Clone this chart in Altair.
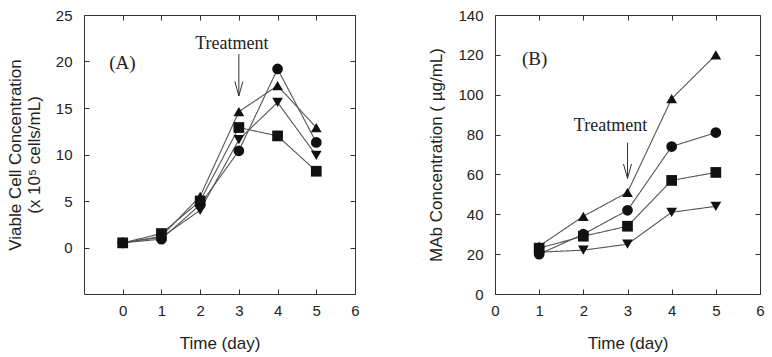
import altair as alt
import pandas as pd

# ---- Panel A: viable cell concentration (x 10^5 cells/mL) ----
days_a = [0, 1, 2, 3, 4, 5]
a_circle = [0.5, 0.9, 4.6, 10.4, 19.2, 11.3]
a_square = [0.5, 1.5, 5.0, 12.9, 12.0, 8.2]
a_up = [0.5, 1.2, 5.5, 14.6, 17.4, 12.9]
a_down = [0.5, 1.1, 4.0, 11.6, 15.6, 9.9]

# ---- Panel B: MAb concentration (ug/mL) ----
days_b = [1, 2, 3, 4, 5]
b_circle = [20, 30, 42, 74, 81]
b_square = [23, 29, 34, 57, 61]
b_up = [24, 39, 51, 98, 120]
b_down = [21, 22, 25, 41, 44]

series_names = ["circle", "square", "up", "down"]
shape_range = ["circle", "square", "triangle-up", "triangle-down"]
treatment_day = 3

INK = "#222222"
SANS = "Liberation Sans"
SERIF = "Liberation Serif"


def long_table(days, cols):
    rows = []
    for name, vals in zip(series_names, cols):
        for d, v in zip(days, vals):
            rows.append({"day": d, "val": v, "series": name})
    return pd.DataFrame(rows)


def phased(df):
    pre = df[df.day <= treatment_day].assign(phase="pre")
    post = df[df.day >= treatment_day].assign(phase="post")
    return pd.concat([pre, post], ignore_index=True)


shape_scale = alt.Scale(domain=series_names, range=shape_range)


def panel(df, xdom, xticks, ydom, yticks, ytitle, label, label_pos,
          treat_text_y, treat_dx, arrow_top, arrow_tip, width, height, dashed_pre):
    xs = alt.Scale(domain=xdom, nice=False, zero=False)
    ys = alt.Scale(domain=ydom, nice=False, zero=False)
    x_ax = alt.Axis(values=xticks, title="Time (day)", offset=-5, tickSize=5,
                    domain=False, grid=False, labelPadding=9, titlePadding=17)
    y_ax = alt.Axis(values=yticks, title=ytitle, offset=-5, tickSize=5,
                    domain=False, grid=False, labelPadding=12, titlePadding=12,
                    titleLineHeight=19)

    def X(field="day:Q"):
        return alt.X(field, scale=xs, axis=None)

    def Y(field="val:Q"):
        return alt.Y(field, scale=ys, axis=None)

    base = alt.Chart(df)

    lines_df = phased(df)
    dash_range = [[3, 2], [1, 0]] if dashed_pre else [[1, 0], [1, 0]]
    lines = alt.Chart(lines_df).mark_line(color="#555555", strokeWidth=1.1).encode(
        x=alt.X("day:Q", scale=xs, axis=x_ax),
        y=alt.Y("val:Q", scale=ys, axis=y_ax),
        detail=["series:N", "phase:N"],
        strokeDash=alt.StrokeDash("phase:N", legend=None,
                                  scale=alt.Scale(domain=["pre", "post"], range=dash_range)),
        order="day:Q",
    )

    points = base.mark_point(filled=True, color="#111111", opacity=1, size=115).encode(
        x=X(), y=Y(),
        shape=alt.Shape("series:N", scale=shape_scale, legend=None),
    )

    # mirrored inward ticks on the top and right edges
    mirror = base.mark_point(opacity=0).encode(
        x=alt.X("day:Q", scale=xs,
                axis=alt.Axis(orient="top", values=xticks, labels=False, title=None,
                              offset=-5, tickSize=5, domain=False, grid=False)),
        y=alt.Y("val:Q", scale=ys,
                axis=alt.Axis(orient="right", values=yticks, labels=False, title=None,
                              offset=-5, tickSize=5, domain=False, grid=False)),
    )

    ann = pd.DataFrame({"day": [label_pos[0]], "val": [label_pos[1]], "txt": [label]})
    label_mark = alt.Chart(ann).mark_text(font=SERIF, fontSize=19, color=INK,
                                          align="left").encode(
        x=X(), y=Y(), text="txt:N")

    treat = pd.DataFrame({"day": [treatment_day], "val": [treat_text_y], "txt": ["Treatment"]})
    treat_mark = alt.Chart(treat).mark_text(font=SERIF, fontSize=18, color=INK,
                                            dx=treat_dx).encode(
        x=X(), y=Y(), text="txt:N")

    arrow = pd.DataFrame({"day": [treatment_day], "top": [arrow_top], "tip": [arrow_tip]})
    shaft = alt.Chart(arrow).mark_rule(color="#333333", strokeWidth=1).encode(
        x=X(), y=Y("top:Q"), y2="tip:Q")
    head = alt.Chart(arrow).mark_point(shape="M-1,-3.6L0,0L1,-3.6", size=64,
                                       filled=False, color="#333333",
                                       strokeWidth=1, opacity=1).encode(
        x=X(), y=Y("tip:Q"))

    return (
        alt.layer(lines, points, mirror, label_mark, treat_mark, shaft, head)
        .resolve_axis(x="independent", y="independent")
        .properties(width=width, height=height)
    )


df_a = long_table(days_a, [a_circle, a_square, a_up, a_down])
df_b = long_table(days_b, [b_circle, b_square, b_up, b_down])

chart_a = panel(df_a, [-1, 6], [0, 1, 2, 3, 4, 5, 6], [-5, 25], [0, 5, 10, 15, 20, 25],
                ["Viable Cell Concentration", "(x 10\u2075 cells/mL)"], "(A)", (-0.35, 19.8),
                21.9, -7, 20.8, 16.3, 271, 279, False)
chart_b = panel(df_b, [0, 6], [0, 1, 2, 3, 4, 5, 6], [0, 140],
                [0, 20, 40, 60, 80, 100, 120, 140],
                "MAb Concentration ( \u00b5g/mL)", "(B)", (0.61, 118),
                84.3, -17, 76, 58, 265, 279, True)

chart = (
    alt.hconcat(chart_a, chart_b, spacing=67)
    .properties(padding={"left": 5, "top": 7, "right": 0, "bottom": 0},
                background="white")
    .configure_view(stroke="#333333", strokeWidth=1)
    .configure_axis(labelFont=SANS, titleFont=SANS, labelFontSize=15, titleFontSize=17,
                    labelColor=INK, titleColor=INK, titleFontWeight="normal",
                    tickColor="#333333", labelFlush=False)
)

chart.save("out.html", embed_options={"renderer": "svg", "actions": False})
